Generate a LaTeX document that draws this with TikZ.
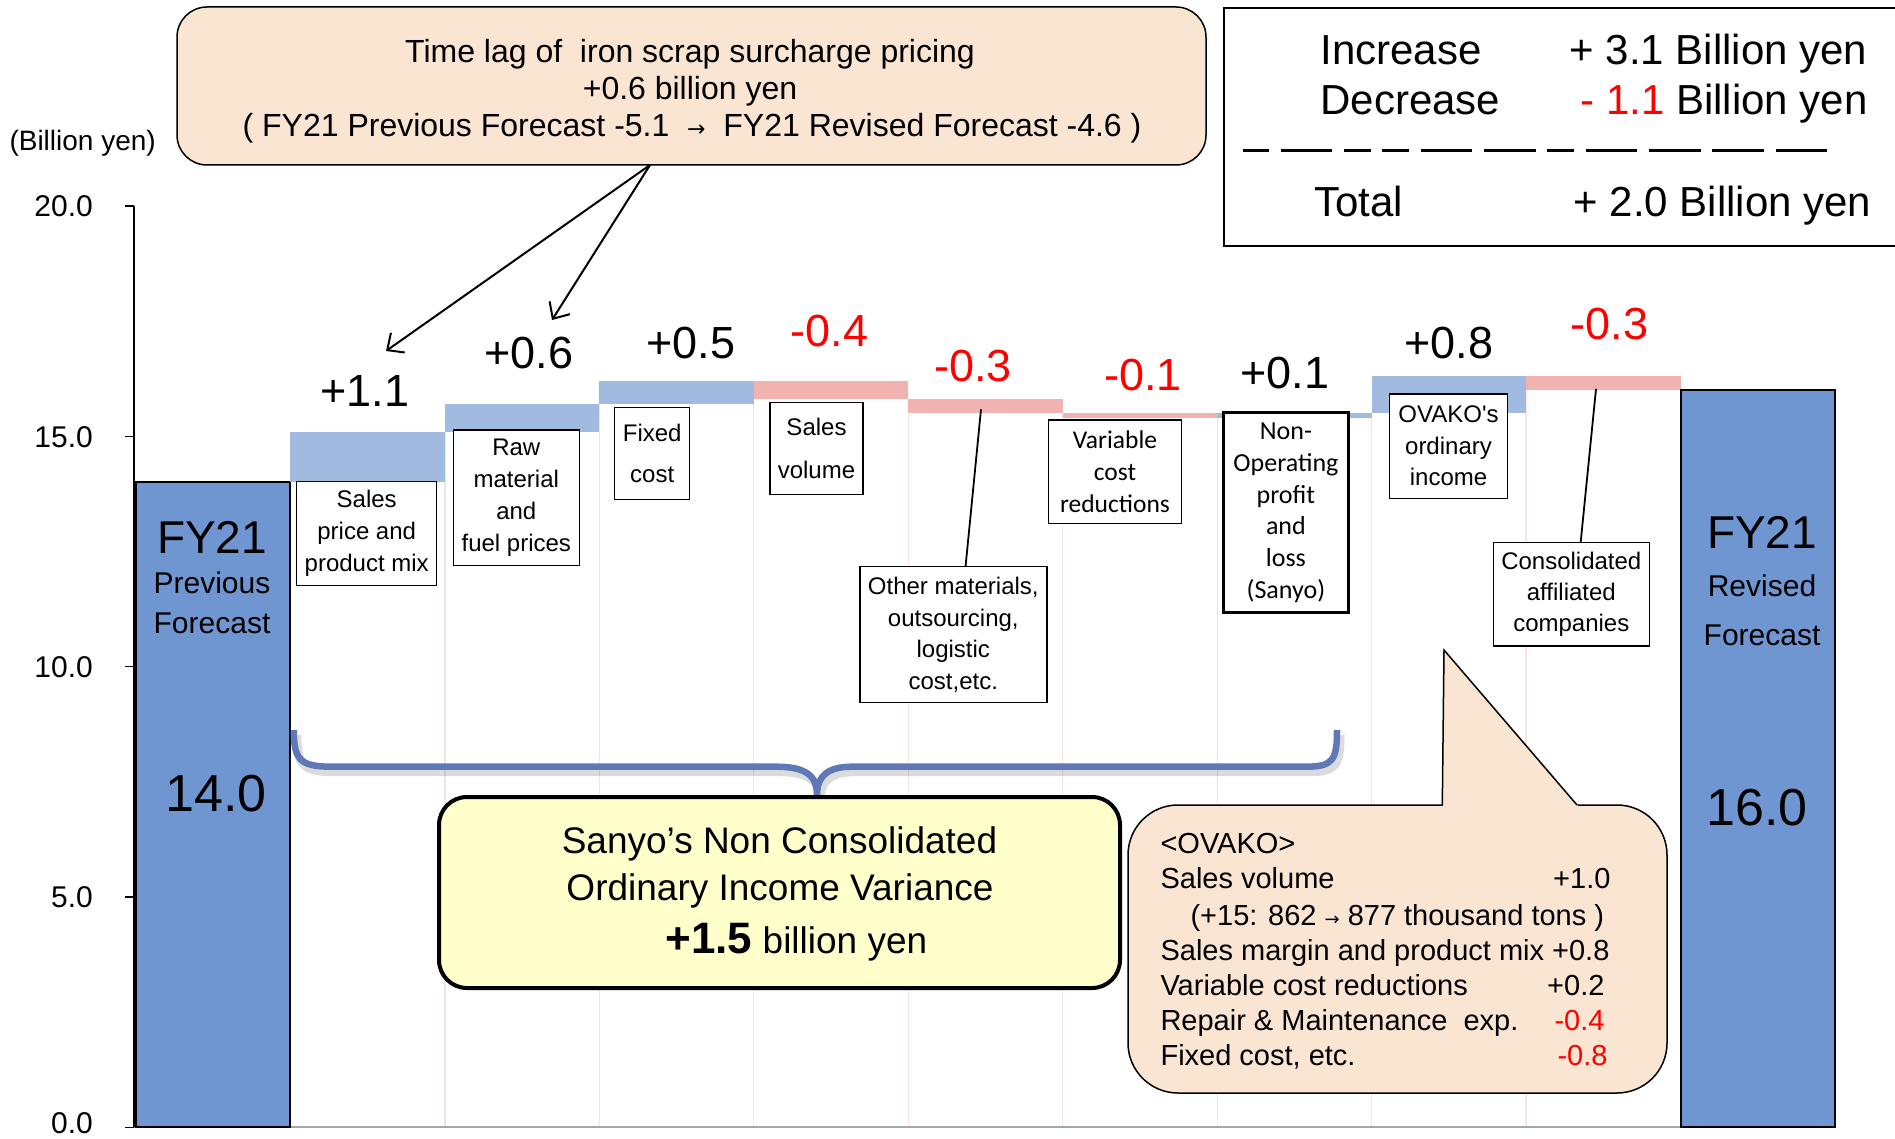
\documentclass[tikz,border=0pt]{standalone}
\usepackage{fontspec}
\setmainfont{Liberation Sans}
\newfontfamily\calib{Carlito}
\newfontfamily\plainarial{Liberation Sans}
\newfontfamily\dejavu{DejaVu Sans}
\usetikzlibrary{arrows.meta}
\definecolor{mainbar}{HTML}{7096D2}
\definecolor{upbar}{HTML}{A0BAE0}
\definecolor{downbar}{HTML}{F2B2B0}
\definecolor{peach}{HTML}{FAE4D2}
\definecolor{lyellow}{HTML}{FFFFCC}
\definecolor{bracec}{HTML}{6078B6}
\definecolor{gridb}{HTML}{E2E8F5}
\definecolor{gridp}{HTML}{FAE3E3}
\newcommand{\fsz}[2]{\fontsize{#1}{#2}\selectfont}
\tikzset{
  lbl/.style={draw=black, line width=1.5pt, fill=white, inner sep=0pt, align=center, font=\fsz{24}{32}},
  val/.style={anchor=base, font=\fsz{45}{45}},
  neg/.style={val, text=red},
  axl/.style={anchor=base east, inner sep=0pt, font=\fsz{30}{30}},
  bigt/.style={anchor=base, font=\fsz{46}{46}},
  midt/.style={anchor=base, font=\fsz{30}{30}},
  numt/.style={anchor=base, font=\fsz{52}{52}},
  leg/.style={anchor=base west, font=\fsz{42}{42}},
  ovl/.style={anchor=base west, font=\fsz{29}{29}},
  ovr/.style={anchor=base east, font=\fsz{29}{29}},
  tlt/.style={anchor=base, font=\fsz{32}{32}},
  syt/.style={anchor=base, font=\fsz{37}{37}},
  mainb/.style={fill=mainbar, draw=black, line width=2pt},
  upb/.style={fill=upbar},
  downb/.style={fill=downbar},
  conn/.style={draw=black, line width=1.8pt},
  callarrow/.style={draw=black, line width=2pt, -{Straight Barb[length=13pt,width=24pt,line width=2pt]}},
}
\begin{document}
\begin{tikzpicture}[x=1pt,y=-1pt]
\useasboundingbox (0,0) rectangle (1895,1139);

% faint grid lines (edges of waterfall base bars)
\foreach \xa/\xb/\yb/\c in {290.45/444.9/482.3/gridb, 444.9/599.35/431.6/gridb, 599.35/753.8/404/gridb,
  753.8/908.25/399.4/gridp, 908.25/1062.7/413.2/gridp, 1062.7/1217.15/417.8/gridp,
  1217.15/1371.6/417.8/gridb, 1371.6/1526.05/413.2/gridb, 1526.05/1680.5/390.2/gridp}{
  \draw[\c, line width=1.2pt] (\xa,\yb) -- (\xa,1127.3) (\xb,\yb) -- (\xb,1127.3);
}

% baseline and axis
\draw[black!35, line width=2pt] (134,1127.3) -- (1835,1127.3);
\draw[black, line width=1.5pt] (134,206) -- (134,1127.3);
\foreach \yy in {206,436.3,666.6,897,1127.3}{ \draw[black, line width=1.5pt] (125,\yy) -- (134,\yy); }
\node[axl] (a20) at (93,216.7) {20.0};
\node[axl] (a15) at (93,447) {15.0};
\node[axl] (a10) at (93,677.3) {10.0};
\node[axl] (a5) at (93,907.7) {5.0};
\node[axl] (a0) at (93,1133) {0.0};
\node[anchor=base west, font=\fsz{28}{28}] (unit) at (6,151) {(Billion yen)};

% bars
\draw[mainb] (136,482.3) rectangle (290.45,1127.3);
\fill[upb] (290.45,431.6) rectangle (444.9,482.3);
\fill[upb] (444.9,404.0) rectangle (599.35,431.6);
\fill[upb] (599.35,381.0) rectangle (753.8,404.0);
\fill[downb] (753.8,381.0) rectangle (908.25,399.4);
\fill[downb] (908.25,399.4) rectangle (1062.7,413.2);
\fill[downb] (1062.7,413.2) rectangle (1217.15,417.8);
\fill[upb] (1217.15,413.2) rectangle (1371.6,417.8);
\fill[upb] (1371.6,376.4) rectangle (1526.05,413.2);
\fill[downb] (1526.05,376.4) rectangle (1680.5,390.2);
\draw[mainb] (1680.5,390.2) rectangle (1835,1127.3);

% bar texts
\node[bigt] (p1) at (212,553) {FY21};
\node[midt] (p2) at (212,593) {Previous};
\node[midt] (p3) at (212,633) {Forecast};
\node[numt] (p4) at (216,811) {14.0};
\node[bigt] (r1) at (1762,548) {FY21};
\node[midt] (r2) at (1762,596.7) {Revised};
\node[midt] (r3) at (1762,645) {Forecast};
\node[numt] (r4) at (1757,825) {16.0};

% value labels
\node[val] (v1) at (365,406.7) {+1.1};
\node[val] (v2) at (529,368.3) {+0.6};
\node[val] (v3) at (691,359) {+0.5};
\node[neg] (v4) at (829.5,346.7) {-0.4};
\node[neg] (v5) at (973,381.7) {-0.3};
\node[neg] (v6) at (1143,390.7) {-0.1};
\node[val] (v7) at (1285,388.3) {+0.1};
\node[val] (v8) at (1448.6,358.3) {+0.8};
\node[neg] (v9) at (1609.6,340) {-0.3};

% label boxes
\node[lbl, minimum width=140pt, minimum height=104pt] (sp) at (366.7,533.7) {Sales\\price and\\product mix};
\node[lbl, minimum width=126pt, minimum height=135.7pt] (raw) at (516.3,497.8) {Raw\\material\\and\\fuel prices};
\node[lbl, minimum width=75pt, minimum height=91.6pt, font=\fsz{24}{41.7}] (fix) at (652.2,453.5) {Fixed\\cost};
\node[lbl, minimum width=93pt, minimum height=91.6pt, font=\fsz{24}{43}] (vol) at (816.5,448.5) {Sales\\volume};
\node[lbl, minimum width=187pt, minimum height=136pt, font=\fsz{24}{31.7}] (oth) at (953.3,634.7) {Other materials,\\outsourcing,\\logistic\\cost,etc.};
\node[lbl, minimum width=133.4pt, minimum height=103.3pt, font=\calib\fsz{25.5}{32}] (var) at (1115,471.7) {Variable\\cost\\reductions};
\node[lbl, line width=2.5pt, minimum width=124.8pt, minimum height=200pt, font=\calib\fsz{26}{31.8}] (nop) at (1285.9,512.7) {Non-\\Operating\\profit\\and\\loss\\(Sanyo)};
\node[lbl, minimum width=118.4pt, minimum height=104.3pt, font=\plainarial\fsz{24}{31.5}] (ovk) at (1448.5,446.2) {OVAKO's\\ordinary\\income};
\node[lbl, minimum width=156pt, minimum height=103.3pt, font=\fsz{24}{31.2}] (cons) at (1571.3,594.3) {Consolidated\\affiliated\\companies};

\coordinate (othb) at (981,409.3);
\coordinate (consb) at (1596,389);
\draw[conn] (oth.north) ++(12.3,0) -- (othb);
\draw[conn] (cons.north) ++(9.4,0) -- (consb);

% time lag box
\node[draw=black, line width=1.5pt, fill=peach, rounded corners=30pt, minimum width=1029pt, minimum height=158pt, inner sep=0pt] (tl) at (691.5,86) {};
\node[tlt] (tl1) at (690,63) {Time lag of \ iron scrap surcharge pricing};
\node[tlt] (tl2) at (690,100) {+0.6 billion yen};
\node[tlt] (tl3) at (692,137) {( FY21 Previous Forecast -5.1 \ {\dejavu\fsz{22}{22}→} \ FY21 Revised Forecast -4.6 )};
\coordinate (tlp) at (650,165);
\coordinate (tip1) at (386,351);
\coordinate (tip2) at (552,320);
\draw[callarrow] (tlp) -- (tip1);
\draw[callarrow] (tlp) -- (tip2);

% legend box
\draw[black, line width=2pt] (1895,8) -- (1224,8) -- (1224,246) -- (1895,246);
\node[leg] (li) at (1317,65) {Increase};
\node[leg] (ld) at (1317,115) {Decrease};
\node[leg] (lt) at (1311,216.7) {Total};
\node[leg] (lvi) at (1566,65) {+ 3.1 Billion yen};
\node[leg] (lvd) at (1577,115) {\textcolor{red}{- 1.1} Billion yen};
\node[leg] (lvt) at (1570,216.7) {+ 2.0 Billion yen};
\draw[black, line width=3.3pt, dash pattern={on 26.5pt off 11.7pt on 51.7pt off 11.7pt on 26.5pt off 11.7pt on 26.5pt off 11.7pt on 51.7pt off 11.7pt on 51.7pt off 11.7pt on 26.5pt off 11.7pt on 51.7pt off 11.7pt on 51.7pt off 11.7pt on 51.7pt off 11.7pt on 51.7pt off 50pt}] (1242.5,150.7) -- (1828,150.7);

% brace
\def\bracepath{(293.8,730) .. controls (293.8,760) and (300,766.7) .. (332,766.7) -- (776,766.7) .. controls (805,766.7) and (817,775) .. (817,795) .. controls (817,775) and (829,766.7) .. (852,766.7) -- (1306,766.7) .. controls (1333,766.7) and (1337,760) .. (1337,730)}
\draw[black, opacity=0.14, line width=9pt, shift={(3,5)}] \bracepath;
\draw[bracec, line width=6.5pt] \bracepath;

% yellow box
\node[draw=black, line width=4pt, fill=lyellow, rounded corners=28pt, minimum width=681pt, minimum height=191pt, inner sep=0pt] (sy) at (779.5,892.5) {};
\node[syt] (sy1) at (779.5,853) {Sanyo’s Non Consolidated};
\node[syt] (sy2) at (780,900) {Ordinary Income Variance};
\node[anchor=base west, font=\fsz{37}{37}] (sy3) at (662,953) {{\bfseries\fsz{44}{44}+1.5} billion yen};

% OVAKO callout
\node[draw=black, line width=1.5pt, fill=peach, rounded corners=50pt, minimum width=539pt, minimum height=288pt, inner sep=0pt] (ovb) at (1397.5,949) {};
\fill[peach] (1442.8,806.8) -- (1444,650) -- (1578.8,806.8) -- cycle;
\coordinate (ovtip) at (1444,650);
\draw[black, line width=1.5pt, line join=miter] (1442.3,805) -- (ovtip) -- (1577,805);
\node[ovl] (o0) at (1157,853.3) {<OVAKO>};
\node[ovl] (o1) at (1157,888.3) {Sales volume};
\node[ovr] (o1v) at (1614,888.3) {+1.0};
\node[ovl] (o2) at (1187,925) {(+15: 862 {\dejavu\fsz{18}{18}→} 877 thousand tons )};
\node[ovl] (o3) at (1157,960) {Sales margin and product mix +0.8};
\node[ovl] (o4) at (1157,995) {Variable cost reductions};
\node[ovr] (o4v) at (1608,995) {+0.2};
\node[ovl] (o5) at (1157,1030) {Repair \& Maintenance \ exp.};
\node[ovr, text=red] (o5v) at (1608,1030) {-0.4};
\node[ovl] (o6) at (1157,1065) {Fixed cost, etc.};
\node[ovr, text=red] (o6v) at (1611,1065) {-0.8};
\end{tikzpicture}
\end{document}
